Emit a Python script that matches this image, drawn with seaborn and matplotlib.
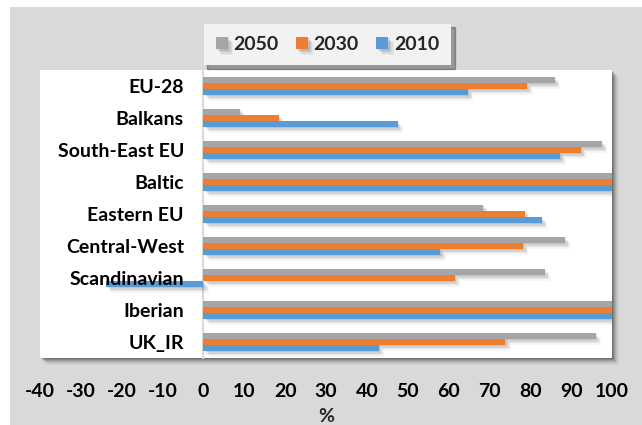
import matplotlib
matplotlib.use("Agg")
import matplotlib.pyplot as plt
import matplotlib.patheffects as pe
from matplotlib.patches import Rectangle
import seaborn as sns
import pandas as pd

# Regional values (%) per scenario year
regions = ["EU-28", "Balkans", "South-East EU", "Baltic", "Eastern EU",
           "Central-West", "Scandinavian", "Iberian", "UK_IR"]
years = ["2050", "2030", "2010"]
v2050 = [86.0, 9.0, 97.5, 100.0, 68.5, 88.5, 83.6, 100.0, 96.0]
v2030 = [79.2, 18.5, 92.4, 100.0, 78.8, 78.2, 61.5, 100.0, 73.9]
v2010 = [64.7, 47.5, 87.3, 100.0, 82.8, 58.0, -23.9, 100.0, 42.9]
colors = ["#a5a5a5", "#ed7d31", "#5b9bd5"]
xticks = list(range(-40, 101, 10))

df = pd.DataFrame({
    "region": regions * 3,
    "year": [y for y in years for _ in regions],
    "value": v2050 + v2030 + v2010,
})

sns.set_theme(style="white")
plt.rcParams["font.family"] = ["Lato", "DejaVu Sans"]
plt.rcParams["font.weight"] = "bold"

W, H = 642, 425
fig = plt.figure(figsize=(W / 100, H / 100), dpi=100)
fig.patch.set_facecolor("white")

# grey chart area
fig.add_artist(Rectangle((10 / W, 0), 1, (H - 7) / H, transform=fig.transFigure,
                         facecolor="#d9d9d9", edgecolor="none", zorder=-5))

ax_l, ax_r, ax_t, ax_b = 40, 612, 70, 358
pos = [ax_l / W, (H - ax_b) / H, (ax_r - ax_l) / W, (ax_b - ax_t) / H]

# soft drop shadow behind the white plot panel
for d, a in zip(range(1, 8), [0.16, 0.13, 0.10, 0.08, 0.06, 0.04, 0.03]):
    fig.add_artist(Rectangle(((ax_l + d) / W, (H - ax_b - d) / H),
                             (ax_r - ax_l) / W, (ax_b - ax_t) / H,
                             transform=fig.transFigure, facecolor="black",
                             alpha=a, edgecolor="none", zorder=-4))

ax = fig.add_axes(pos)
ax.set_facecolor("white")

sns.barplot(data=df, y="region", x="value", hue="year", hue_order=years,
            order=regions, palette=colors, orient="h", width=0.56,
            saturation=1, ax=ax, legend=True)

# blurred-looking bar shadows built from stacked offsets
shadow = [pe.SimplePatchShadow(offset=(o, -o), shadow_rgbFace="black", alpha=a)
          for o, a in [(4, 0.04), (3, 0.06), (2, 0.08), (1, 0.08)]] + [pe.Normal()]
for p in ax.patches:
    p.set_edgecolor("none")
    p.set_path_effects(shadow)

ax.set_xlim(-40, 100)
ax.set_xticks(xticks)
ax.set_xticklabels([str(t) for t in xticks])
ax.set_xlabel("%", fontsize=14, fontweight="bold", labelpad=6)
ax.set_ylabel("")

for s in ["top", "right", "bottom"]:
    ax.spines[s].set_visible(False)
ax.spines["left"].set_position(("data", 0))
ax.spines["left"].set_color("#d9d9d9")
ax.spines["left"].set_linewidth(1.5)
ax.spines["left"].set_zorder(0.5)
# category labels sit on top of the bars
ax.yaxis.set_zorder(3)

ax.tick_params(axis="y", length=0, pad=14, labelsize=14)
ax.tick_params(axis="x", length=0, pad=18, labelsize=14)
for lab in ax.get_yticklabels() + ax.get_xticklabels():
    lab.set_fontweight("bold")
    lab.set_color("black")

handles, labels = ax.get_legend_handles_labels()
ax.get_legend().remove()
leg = fig.legend(handles, labels, loc="center",
                 bbox_to_anchor=(327.5 / W, (H - 44.5) / H),
                 ncol=3, frameon=True, fancybox=False, facecolor="#f2f2f2",
                 edgecolor="none", framealpha=1, fontsize=14,
                 handlelength=0.62, handleheight=0.62, handletextpad=0.28,
                 columnspacing=0.9, borderpad=0.62,
                 shadow={"ox": 2.5, "oy": -2.5, "color": "black", "alpha": 0.3})
for t in leg.get_texts():
    t.set_fontweight("bold")

fig.savefig("out.png", dpi=100, facecolor=fig.get_facecolor())
